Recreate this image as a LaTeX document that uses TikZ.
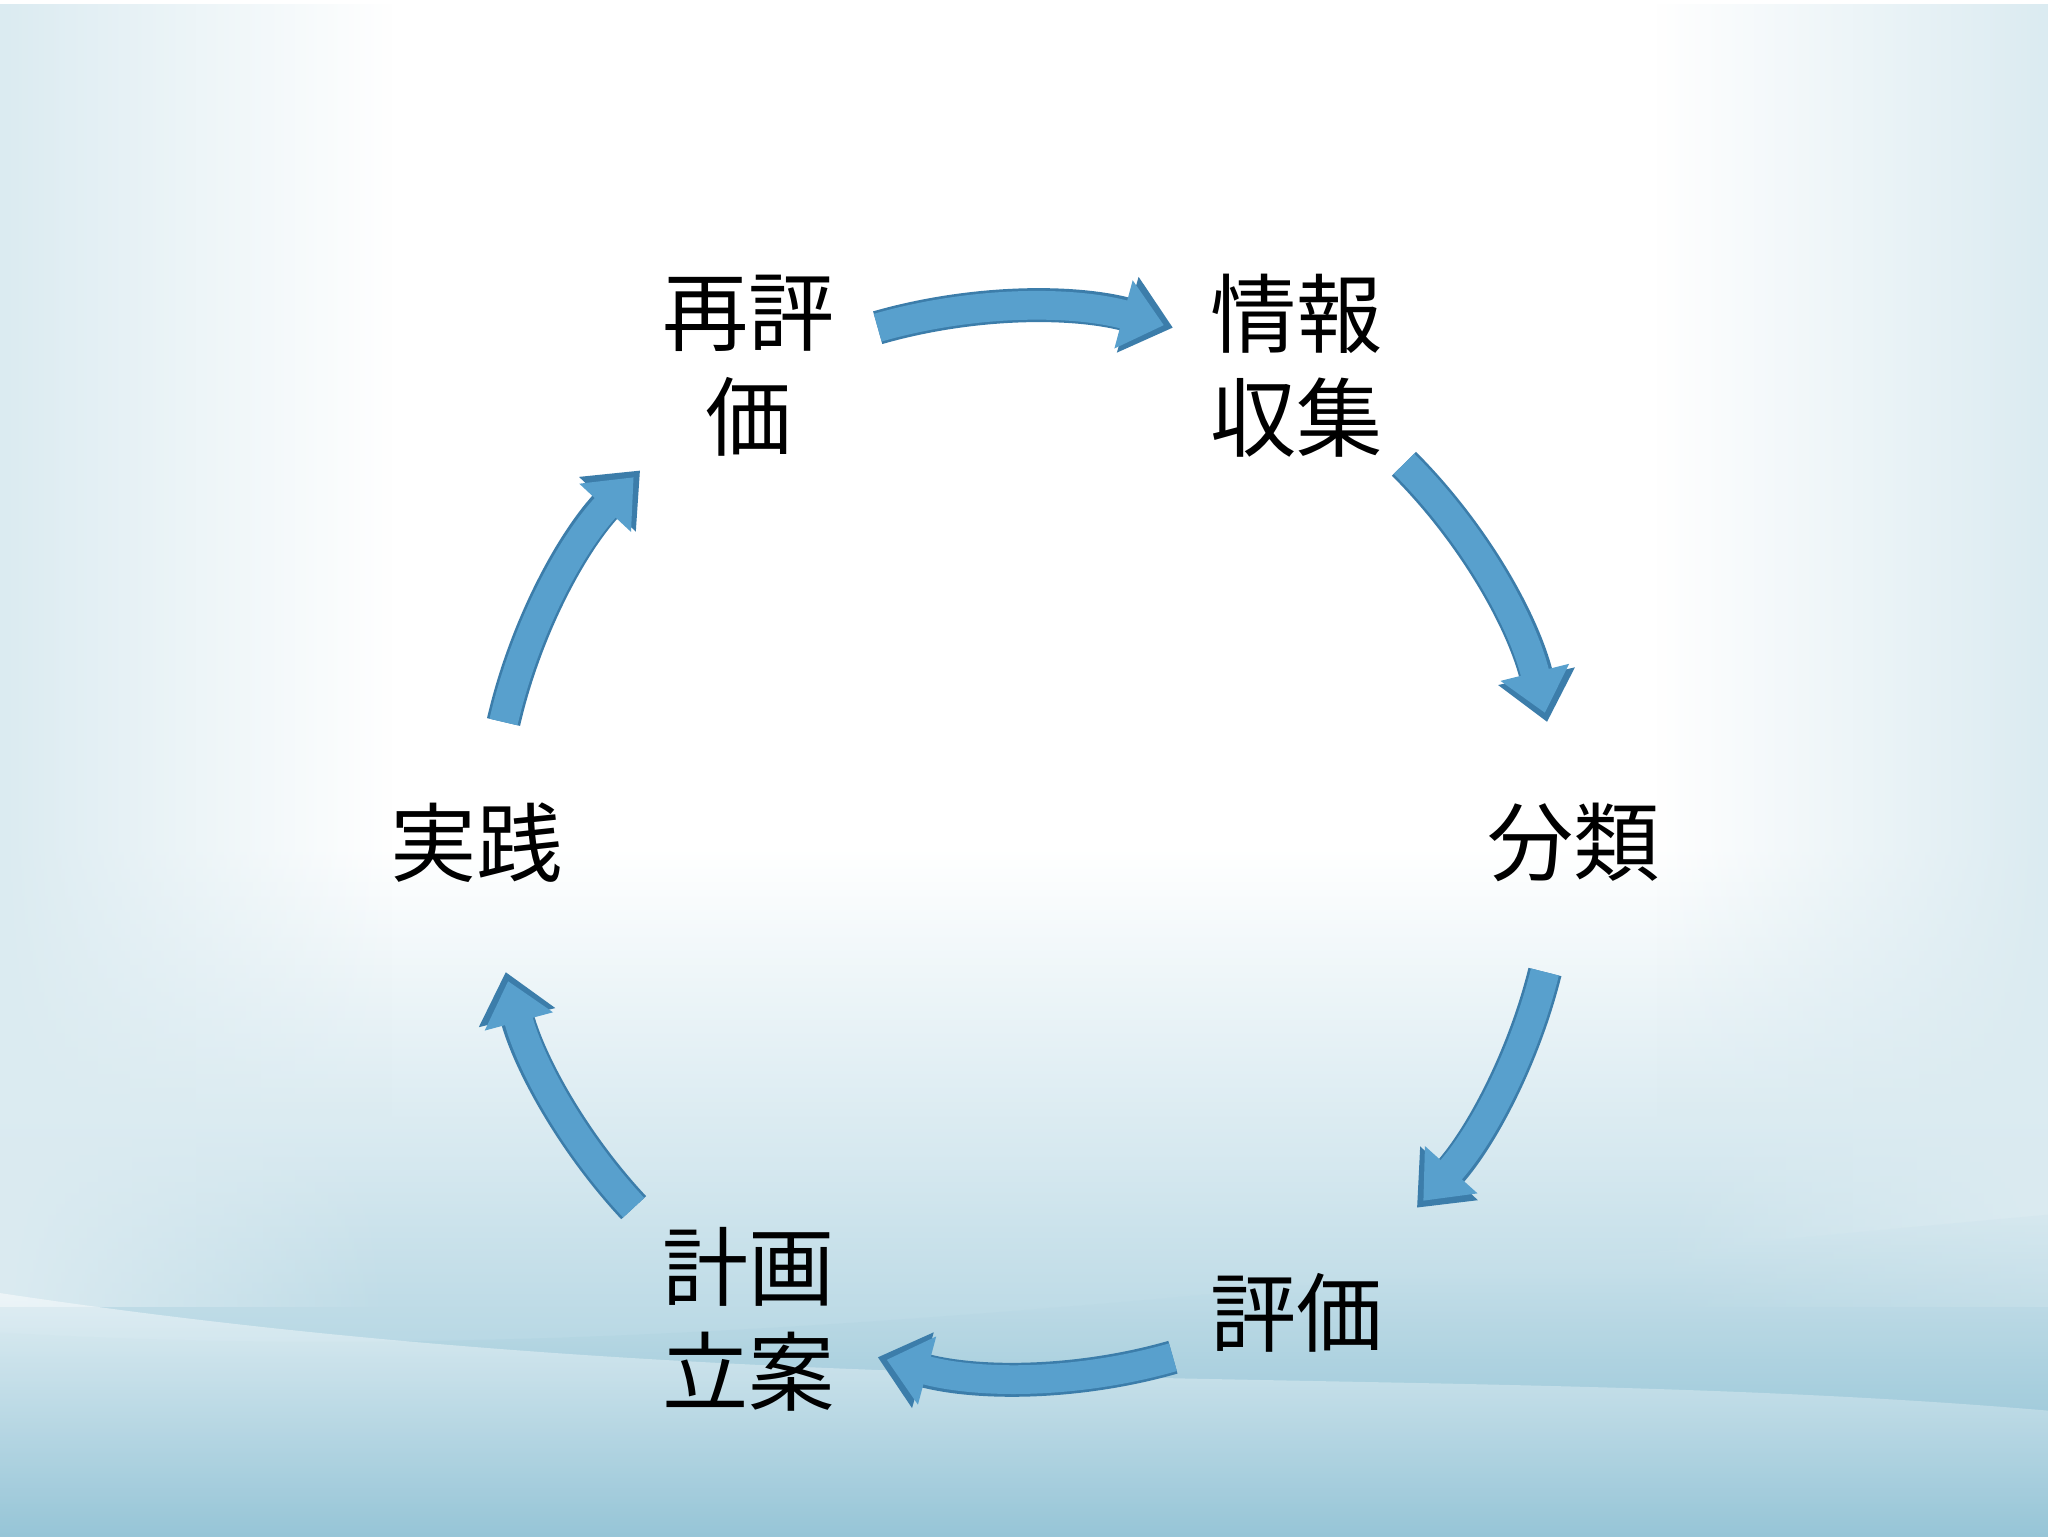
\documentclass[tikz,border=0pt]{standalone}
\usepackage{fontspec}
\newfontfamily\cjk{Noto Sans CJK JP}
\usetikzlibrary{arrows.meta,fadings}
\definecolor{arr}{RGB}{88,160,205}
\definecolor{arrd}{RGB}{60,125,170}
\definecolor{sea}{RGB}{110,175,200}
\tikzfading[name=myfadeR,left color=transparent!0,right color=transparent!100]
\tikzfading[name=myfadeL,left color=transparent!100,right color=transparent!0]
\begin{document}
\begin{tikzpicture}[x=1pt,y=-1pt,
  lab/.style={font=\cjk\fontsize{66}{80}\selectfont,align=center,text=black},
  cyc/.style={line width=22pt,arr,-{Triangle[length=32pt,width=52pt]}}]
\useasboundingbox (0,0) rectangle (1568,1176);
\fill[white] (0,0) rectangle (1568,650);
\shade[top color=white,bottom color=sea!30] (0,649) rectangle (1568,901);
\shade[top color=sea!30,bottom color=sea!70] (0,900) rectangle (1568,1176);
\fill[sea!25,path fading=myfadeR] (0,0) rectangle (300,1000);
\fill[sea!25,path fading=myfadeL] (1268,0) rectangle (1568,1000);
\shade[top color=sea!30,bottom color=sea!90,opacity=0.7]
  (0,1020) .. controls (500,1050) and (1000,980) .. (1568,930) -- (1568,1176) -- (0,1176) -- cycle;
\shade[top color=white,bottom color=sea!60,opacity=0.5]
  (0,990) .. controls (600,1080) and (1100,1040) .. (1568,1080) -- (1568,1176) -- (0,1176) -- cycle;
\coordinate (c) at (785,645);
\node[lab] (n1) at (993,280) {情報\\収集};
\node[lab] (n2) at (1205,645) {分類};
\node[lab] (n3) at (993,1005) {評価};
\node[lab] (n4) at (573,1010) {計画\\立案};
\node[lab] (n5) at (365,645) {実践};
\node[lab] (n6) at (573,280) {再評\\価};
\foreach \a/\b in {-106/-74, -45/-13, 14/43, 74/106, 137/166, -167/-136}{
  \draw[cyc,arrd,line width=26pt,-{Triangle[length=36pt,width=58pt]}] (c) ++(\a:410) arc[start angle=\a,end angle=\b,radius=410];
  \draw[cyc] (c) ++(\a:410) arc[start angle=\a,end angle=\b-1,radius=410];
}
\end{tikzpicture}
\end{document}
